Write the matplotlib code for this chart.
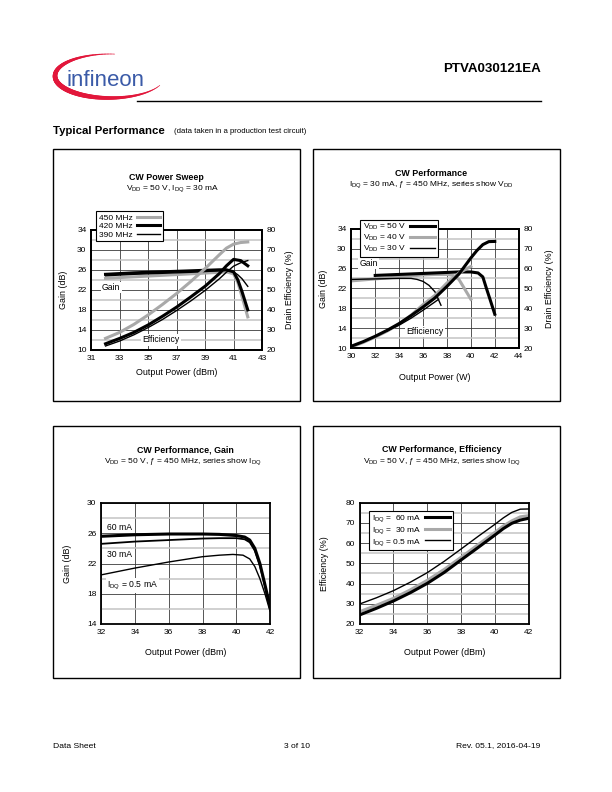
import numpy as np
import matplotlib
matplotlib.use('Agg')
import matplotlib.pyplot as plt
from matplotlib.patches import Rectangle
from matplotlib.collections import LineCollection

plt.rcParams['font.family'] = ['Liberation Sans', 'DejaVu Sans']
plt.rcParams['mathtext.fontset'] = 'custom'
plt.rcParams['mathtext.rm'] = 'Liberation Sans'
plt.rcParams['mathtext.it'] = 'Liberation Sans:italic'
plt.rcParams['mathtext.bf'] = 'Liberation Sans:bold'

# ---- CW Power Sweep (VDD = 50 V, IDQ = 30 mA) ----
sweep_labels = ['450 MHz', '420 MHz', '390 MHz']
sweep_gain_x = [32, 34, 36, 38, 40, 40.5, 41, 41.3, 41.6, 42]
sweep_gain_450 = [24.3, 24.6, 24.9, 25.2, 25.5, 25.6, 25.2, 23.5, 20.6, 16.6]
sweep_gain_420 = [25.1, 25.4, 25.6, 25.8, 26.0, 26.0, 25.6, 24.0, 21.6, 18.0]
sweep_gain_390 = [24.8, 25.1, 25.3, 25.5, 25.8, 25.9, 25.6, 25.0, 24.2, 22.7]
sweep_eff_x = [32, 33, 34, 35, 36, 37, 38, 39, 40, 40.5, 41, 41.5, 42]
sweep_eff_450 = [25.8, 28.8, 32.8, 37.5, 42.7, 48.2, 54.2, 60.6, 67.5, 70.8, 72.8, 73.6, 73.9]
sweep_eff_420 = [23.1, 25.8, 28.8, 32.5, 36.8, 41.4, 46.5, 51.8, 58.1, 62.0, 65.2, 64.6, 62.0]
sweep_eff_390 = [22.0, 24.5, 27.6, 31.2, 35.2, 39.7, 44.5, 49.7, 55.5, 58.8, 61.8, 63.5, 64.6]

# ---- CW Performance vs VDD (IDQ = 30 mA, f = 450 MHz) ----
vdd_labels = ['V$_{\\mathrm{DD}}$ = 50 V', 'V$_{\\mathrm{DD}}$ = 40 V', 'V$_{\\mathrm{DD}}$ = 30 V']
vdd50_gain_x = [32, 34, 36, 38, 39, 40, 40.6, 41, 41.3, 41.6, 42]
vdd50_gain = [24.6, 24.8, 25.0, 25.2, 25.3, 25.3, 25.1, 24.3, 22.0, 19.8, 16.8]
vdd40_gain_x = [30, 32, 34, 36, 37, 38, 38.5, 39, 39.5, 40]
vdd40_gain = [23.5, 23.9, 24.3, 24.7, 24.8, 24.8, 24.6, 23.8, 21.8, 19.8]
vdd30_gain_x = [30, 32, 34, 35, 35.5, 36, 36.5, 37, 37.5]
vdd30_gain = [23.8, 23.9, 24.0, 24.0, 23.8, 23.4, 22.6, 21.3, 18.6]
vdd50_eff_x = [30, 31, 32, 33, 34, 35, 36, 37, 38, 39, 40, 40.5, 41, 41.5, 42]
vdd50_eff = [20.9, 23.2, 25.9, 28.9, 32.3, 36.3, 40.6, 45.2, 51.0, 57.2, 65.3, 69.0, 72.0, 73.5, 73.6]
vdd40_eff_x = [30, 31, 32, 33, 34, 35, 36, 37, 38, 39, 40]
vdd40_eff = [20.5, 22.8, 25.5, 28.5, 32.0, 36.5, 41.8, 46.5, 52.7, 57.7, 61.0]
vdd30_eff_x = [33, 34, 35, 36, 37, 37.3]
vdd30_eff = [28.6, 31.5, 35.0, 39.0, 43.2, 44.5]

# ---- CW Performance, Gain / Efficiency vs IDQ (VDD = 50 V, f = 450 MHz) ----
idq_gain_x = [32, 34, 36, 38, 39, 40, 40.5, 40.8, 41.1, 41.4, 41.7, 42]
idq60_gain = [25.6, 25.8, 25.9, 25.9, 25.85, 25.7, 25.5, 25.1, 24.0, 22.0, 19.2, 16.3]
idq30_gain = [24.6, 24.9, 25.1, 25.3, 25.35, 25.35, 25.2, 24.8, 23.7, 21.7, 19.0, 16.0]
idq05_gain_x = [32, 34, 36, 38, 39, 39.8, 40.4, 40.8, 41.1, 41.4, 41.7, 42]
idq05_gain = [20.5, 21.4, 22.2, 22.9, 23.1, 23.2, 23.1, 22.6, 21.6, 20.0, 18.0, 15.7]

idq_eff_x = [32, 33, 34, 35, 36, 37, 38, 39, 40, 40.5, 41, 41.5, 42]
idq60_eff = [24.5, 27.8, 31.4, 35.5, 40.1, 45.5, 51.7, 57.8, 64.0, 67.2, 69.8, 71.4, 72.3]
idq30_eff = [26.1, 29.3, 32.7, 36.9, 41.6, 47.0, 53.0, 59.2, 65.3, 68.5, 71.0, 73.0, 73.6]
idq05_eff = [29.9, 33.0, 36.5, 40.7, 45.4, 51.0, 57.1, 63.3, 69.3, 72.5, 75.2, 76.8, 76.9]
idq_labels = ['I$_{\\mathrm{DQ}}$ =  60 mA', 'I$_{\\mathrm{DQ}}$ =  30 mA', 'I$_{\\mathrm{DQ}}$ = 0.5 mA']

GRAY = '#a9a9a9'
THICK = 2.2
THIN = 1.0
W, H = 612, 792


def px_rect(x0, y0, x1, y1):
    # pixel box (y down) -> figure fraction [l, b, w, h]
    return [x0 / W, 1 - y1 / H, (x1 - x0) / W, (y1 - y0) / H]


def style_axes(ax, xlim, xticks, ylim, yticks, yminor):
    ax.set_xlim(*xlim)
    ax.set_ylim(*ylim)
    ax.set_xticks(xticks)
    ax.set_yticks(yticks)
    ax.set_yticks(yminor, minor=True)
    ax.tick_params(which='both', length=0, labelsize=6, pad=3.5)
    ax.grid(True, which='major', color='#3a3a3a', lw=0.6)
    ax.grid(True, which='minor', axis='y', color='#c4c4c4', lw=1.1)
    for s in ax.spines.values():
        s.set_linewidth(1.3)
    ax.set_axisbelow(True)


def right_axis(ax, ylim, yticks, label, lx):
    ax2 = ax.twinx()
    ax2.set_ylim(*ylim)
    ax2.set_yticks(yticks)
    ax2.tick_params(length=0, labelsize=6, pad=3.5)
    ax2.set_ylabel(label, fontsize=6.4, va='center')
    ax2.yaxis.set_label_coords(lx, 0.5)
    for s in ax2.spines.values():
        s.set_linewidth(1.3)
    return ax2


def label_box(ax, x, y, s, transform):
    ax.text(x, y, s, fontsize=6.2, va='center', ha='left', transform=transform, zorder=5,
            bbox=dict(boxstyle='square,pad=0.15', fc='white', ec='none'))


def add_legend(ax, handles, labels, x, y, hl):
    leg = ax.legend(handles, labels, loc='upper left', bbox_to_anchor=(x / W, 1 - y / H),
                    bbox_transform=fig.transFigure, fontsize=6, markerfirst=False, fancybox=False,
                    framealpha=1, edgecolor='black', handlelength=hl, handletextpad=0.5,
                    labelspacing=0.1, borderpad=0.3, borderaxespad=0)
    leg.get_frame().set_linewidth(0.8)
    leg.set_zorder(10)


fig = plt.figure(figsize=(W / 100, H / 100), dpi=100)

# page layer in pixel coordinates
page = fig.add_axes([0, 0, 1, 1], zorder=-1)
page.set_xlim(0, W)
page.set_ylim(H, 0)
page.axis('off')

# logo
t = np.radians(np.linspace(85, 335, 160))
lx = 110 + 55 * np.cos(t)
ly = 76 - 22 * np.sin(t)
pts = np.column_stack([lx, ly]).reshape(-1, 1, 2)
segs = np.concatenate([pts[:-1], pts[1:]], axis=1)
frac = np.linspace(0, 1, len(segs))
widths = 0.4 + 3.2 * np.sin(np.pi * frac) ** 1.3
page.add_collection(LineCollection(segs, linewidths=widths, colors='#e2173b', capstyle='round'))
page.text(67, 86, 'infineon', fontsize=16, color='#3b5ba8', ha='left', va='baseline')
page.text(541, 69, 'PTVA030121EA', fontsize=9.6, fontweight='bold', ha='right', va='center')
page.plot([137, 541], [101, 101], color='black', lw=1.0)
page.text(53, 131, 'Typical Performance', fontsize=8.2, fontweight='bold', ha='left', va='center')
page.text(174, 131.5, '(data taken in a production test circuit)', fontsize=5.6, ha='left', va='center')

for (x0, y0, x1, y1) in [(53, 149, 300, 401), (313, 149, 560, 401),
                         (53, 426, 300, 678), (313, 426, 560, 678)]:
    page.add_patch(Rectangle((x0, y0), x1 - x0, y1 - y0, fill=False, ec='black', lw=1.0))

page.text(53, 746, 'Data Sheet', fontsize=6.1, ha='left', va='center')
page.text(297, 746, '3 of 10', fontsize=6.1, ha='center', va='center')
page.text(540, 746, 'Rev. 05.1, 2016-04-19', fontsize=6.1, ha='right', va='center')

# ---------------- panel 1: CW Power Sweep ----------------
page.text(166.5, 177, 'CW Power Sweep', fontsize=6.4, fontweight='bold', ha='center', va='center')
page.text(172, 189, 'V$_{\\mathrm{DD}}$ = 50 V, I$_{\\mathrm{DQ}}$ = 30 mA', fontsize=6, ha='center', va='center')
ax = fig.add_axes(px_rect(91.3, 229.7, 262, 350))
style_axes(ax, (31, 43), np.arange(31, 44, 2), (10, 34), np.arange(10, 35, 4), np.arange(12, 34, 4))
ax.grid(True, which='major', axis='x', color='#555555', lw=0.7)
ax.set_xlabel('Output Power (dBm)', fontsize=6.4, va='center')
ax.xaxis.set_label_coords(0.5, -0.185)
ax.set_ylabel('Gain (dB)', fontsize=6.4, va='center')
ax.yaxis.set_label_coords(-0.162, 0.5)
ax.plot(sweep_gain_x, sweep_gain_450, color=GRAY, lw=THICK)
ax.plot(sweep_gain_x, sweep_gain_420, color='black', lw=THICK)
ax.plot(sweep_gain_x, sweep_gain_390, color='black', lw=THIN)
ax2 = right_axis(ax, (20, 80), np.arange(20, 81, 10), 'Drain Efficiency (%)', 1.16)
h1, = ax2.plot(sweep_eff_x, sweep_eff_450, color=GRAY, lw=THICK)
h2, = ax2.plot(sweep_eff_x, sweep_eff_420, color='black', lw=THICK)
h3, = ax2.plot(sweep_eff_x, sweep_eff_390, color='black', lw=THIN)
label_box(ax2, 31.75, 22.5, 'Gain', ax.transData)
label_box(ax2, 34.6, 12.0, 'Efficiency', ax.transData)
add_legend(ax2, [h1, h2, h3], sweep_labels, 96.3, 211.3, 2.8)

# ---------------- panel 2: CW Performance vs VDD ----------------
page.text(431, 173, 'CW Performance', fontsize=6.4, fontweight='bold', ha='center', va='center')
page.text(431, 185, 'I$_{\\mathrm{DQ}}$ = 30 mA, ƒ = 450 MHz, series show V$_{\\mathrm{DD}}$',
          fontsize=6, ha='center', va='center')
ax = fig.add_axes(px_rect(351.3, 228.7, 518.7, 348))
style_axes(ax, (30, 44), np.arange(30, 45, 2), (10, 34), np.arange(10, 35, 4), np.arange(12, 34, 4))
ax.set_xlabel('Output Power (W)', fontsize=6.4, va='center')
ax.xaxis.set_label_coords(0.5, -0.25)
ax.set_ylabel('Gain (dB)', fontsize=6.4, va='center')
ax.yaxis.set_label_coords(-0.165, 0.5)
ax.plot(vdd40_gain_x, vdd40_gain, color=GRAY, lw=THICK)
ax.plot(vdd50_gain_x, vdd50_gain, color='black', lw=THICK)
ax.plot(vdd30_gain_x, vdd30_gain, color='black', lw=THIN)
ax2 = right_axis(ax, (20, 80), np.arange(20, 81, 10), 'Drain Efficiency (%)', 1.183)
h2, = ax2.plot(vdd40_eff_x, vdd40_eff, color=GRAY, lw=THICK)
h1, = ax2.plot(vdd50_eff_x, vdd50_eff, color='black', lw=THICK)
h3, = ax2.plot(vdd30_eff_x, vdd30_eff, color='black', lw=THIN)
label_box(ax2, 30.7, 27.0, 'Gain', ax.transData)
label_box(ax2, 34.6, 13.35, 'Efficiency', ax.transData)
add_legend(ax2, [h1, h2, h3], vdd_labels, 360.3, 219.7, 3.0)

# ---------------- panel 3: CW Performance, Gain ----------------
page.text(185.3, 450, 'CW Performance, Gain', fontsize=6.4, fontweight='bold', ha='center', va='center')
page.text(183, 462, 'V$_{\\mathrm{DD}}$ = 50 V, ƒ = 450 MHz, series show I$_{\\mathrm{DQ}}$',
          fontsize=6, ha='center', va='center')
ax = fig.add_axes(px_rect(101.3, 503, 270, 624))
style_axes(ax, (32, 42), np.arange(32, 43, 2), (14, 30), np.arange(14, 31, 4), np.arange(16, 30, 4))
ax.set_xlabel('Output Power (dBm)', fontsize=6.4, va='center')
ax.xaxis.set_label_coords(0.5, -0.235)
ax.set_ylabel('Gain (dB)', fontsize=6.4, va='center')
ax.yaxis.set_label_coords(-0.203, 0.5)
ax.plot(idq_gain_x, idq60_gain, color='black', lw=THICK)
ax.plot(idq_gain_x, idq30_gain, color='black', lw=1.3)
ax.plot(idq05_gain_x, idq05_gain, color='black', lw=THIN)
label_box(ax, 32.34, 26.8, '60 mA', ax.transData)
label_box(ax, 32.34, 23.2, '30 mA', ax.transData)
label_box(ax, 32.34, 19.1, 'I$_{\\mathrm{DQ}}$ = 0.5 mA', ax.transData)

# ---------------- panel 4: CW Performance, Efficiency ----------------
page.text(442, 450, 'CW Performance, Efficiency', fontsize=6.4, fontweight='bold', ha='center', va='center')
page.text(442, 462, 'V$_{\\mathrm{DD}}$ = 50 V, ƒ = 450 MHz, series show I$_{\\mathrm{DQ}}$',
          fontsize=6, ha='center', va='center')
ax = fig.add_axes(px_rect(359.7, 502.7, 528.7, 624))
style_axes(ax, (32, 42), np.arange(32, 43, 2), (20, 80), np.arange(20, 81, 10), np.arange(25, 80, 10))
ax.set_xlabel('Output Power (dBm)', fontsize=6.4, va='center')
ax.xaxis.set_label_coords(0.5, -0.235)
ax.set_ylabel('Efficiency (%)', fontsize=6.4, va='center')
ax.yaxis.set_label_coords(-0.207, 0.5)
h3, = ax.plot(idq_eff_x, idq05_eff, color='black', lw=THIN)
h2, = ax.plot(idq_eff_x, idq30_eff, color=GRAY, lw=THICK)
h1, = ax.plot(idq_eff_x, idq60_eff, color='black', lw=THICK)
add_legend(ax, [h1, h2, h3], idq_labels, 369.3, 511, 3.0)

fig.savefig('out.png', dpi=100)
